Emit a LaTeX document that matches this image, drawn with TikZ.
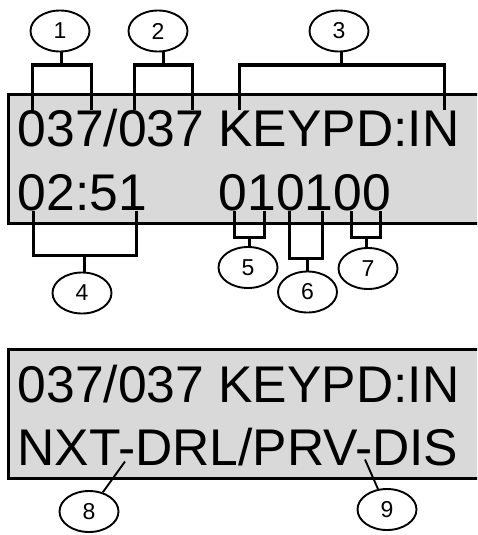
\documentclass[tikz,border=0pt]{standalone}
\usepackage{fontspec}
\setmainfont{Liberation Sans}
\usetikzlibrary{shapes.geometric}
\definecolor{lcdgray}{RGB}{217,217,217}
\begin{document}
\begin{tikzpicture}[x=1pt,y=-1pt,
  lcd/.style={draw=black, fill=lcdgray, line width=3pt},
  lcdtext/.style={anchor=base west, inner sep=0pt, font=\fontsize{51.6}{51.6}\selectfont},
  callout/.style={draw, ellipse, line width=1.9pt, minimum width=59pt, minimum height=41pt, inner sep=0pt, font=\fontsize{23}{23}\selectfont},
  bracket/.style={line width=3pt, line join=miter},
  leader/.style={line width=1.9pt}]
\useasboundingbox (0,0) rectangle (477,535);
\begin{scope}
\clip (0,0) rectangle (477,535);
\draw[lcd] (8,94) rectangle (490,223);
\draw[lcd] (8,349.5) rectangle (490,478);
\end{scope}
% LCD texts
\node[lcdtext] (t1) at (17.5,146.5) {037/037 KEYPD:IN};
\node[lcdtext] (t2) at (17.5,210) {02:51};
\node[lcdtext] (t3) at (218.5,210) {010100};
\node[lcdtext] (t4) at (17.5,402) {037/037 KEYPD:IN};
\node[lcdtext] (t5) at (17.5,465) {NXT-DRL/PRV-DIS};
% callouts
\node[callout] (e1) at (60,31) {1};
\node[callout] (e2) at (158,31) {2};
\node[callout] (e3) at (339,31) {3};
\node[callout] (e4) at (82,293) {4};
\node[callout] (e5) at (248,267.5) {5};
\node[callout] (e6) at (307.5,292) {6};
\node[callout] (e7) at (368,268.5) {7};
\node[callout] (e8) at (89,511.5) {8};
\node[callout] (e9) at (387,509.5) {9};
% bracket coordinates
\coordinate (b1) at (61.5,65);  \coordinate (k1a) at (32,110);  \coordinate (k1b) at (91,110);
\coordinate (b2) at (163,65);   \coordinate (k2a) at (134,110); \coordinate (k2b) at (192,110);
\coordinate (b3) at (341,65);   \coordinate (k3a) at (239,110); \coordinate (k3b) at (444,110);
\coordinate (b4) at (84,255);   \coordinate (k4a) at (33,211);  \coordinate (k4b) at (136,211);
\coordinate (b5) at (249,237);  \coordinate (k5a) at (234,211); \coordinate (k5b) at (264,211);
\coordinate (b6) at (307,258);  \coordinate (k6a) at (289,211); \coordinate (k6b) at (322,211);
\coordinate (b7) at (366,237);  \coordinate (k7a) at (351,211); \coordinate (k7b) at (380,211);
\coordinate (h8) at (125,461.5);
\coordinate (h9) at (365,459.5);
% brackets
\draw[bracket] (k1a) |- (b1) -| (k1b);
\draw[bracket] (e1.south -| b1) -- (b1);
\draw[bracket] (k2a) |- (b2) -| (k2b);
\draw[bracket] (e2.south -| b2) -- (b2);
\draw[bracket] (k3a) |- (b3) -| (k3b);
\draw[bracket] (e3.south -| b3) -- (b3);
\draw[bracket] (k4a) |- (b4) -| (k4b);
\draw[bracket] (b4) -- (e4.north -| b4);
\draw[bracket] (k5a) |- (b5) -| (k5b);
\draw[bracket] (b5) -- (e5.north -| b5);
\draw[bracket] (k6a) |- (b6) -| (k6b);
\draw[bracket] (b6) -- (e6.north -| b6);
\draw[bracket] (k7a) |- (b7) -| (k7b);
\draw[bracket] (b7) -- (e7.north -| b7);
% leaders
\draw[leader] (h8) -- (e8);
\draw[leader] (h9) -- (e9);
\end{tikzpicture}
\end{document}
